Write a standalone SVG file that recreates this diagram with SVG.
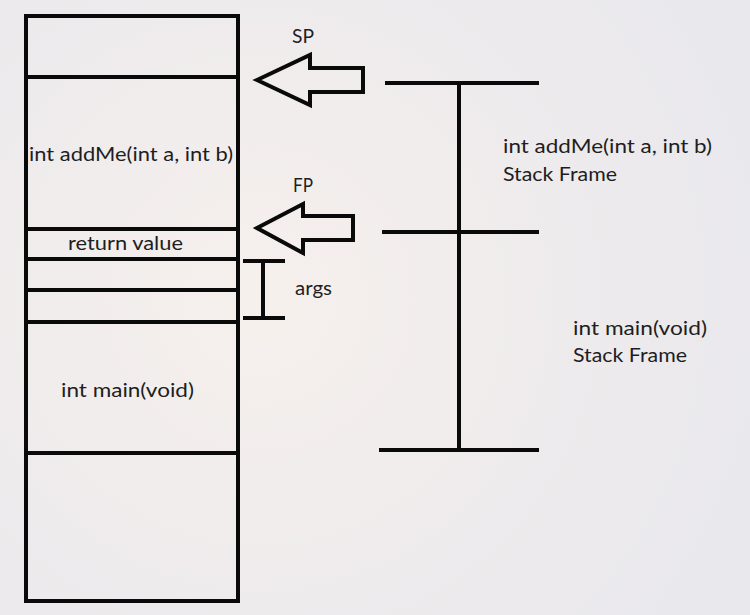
<svg xmlns="http://www.w3.org/2000/svg" width="750" height="615" viewBox="0 0 750 615">
<defs>
<radialGradient id="bg" cx="260" cy="300" r="520" gradientUnits="userSpaceOnUse">
<stop offset="0" stop-color="#f6f0ec"/>
<stop offset="0.6" stop-color="#eeebed"/>
<stop offset="1" stop-color="#e9e8ec"/>
</radialGradient>
<style>
.ln{stroke:#0a0a0a;stroke-width:4;fill:none;stroke-linecap:butt}
.ar{stroke:#0a0a0a;stroke-width:4;fill:none;stroke-linejoin:miter}
.t{font-family:Lato,"Open Sans",sans-serif;font-size:19.5px;fill:#1e1e22}
</style>
</defs>
<rect width="750" height="615" fill="url(#bg)"/>
<g id="stack">
<rect x="26" y="16" width="212" height="585" class="ln"/>
<line x1="26" y1="77" x2="238" y2="77" class="ln"/>
<line x1="26" y1="229" x2="238" y2="229" class="ln"/>
<line x1="26" y1="259" x2="238" y2="259" class="ln"/>
<line x1="26" y1="290" x2="238" y2="290" class="ln"/>
<line x1="26" y1="322" x2="238" y2="322" class="ln"/>
<line x1="26" y1="453" x2="238" y2="453" class="ln"/>
<text class="t" x="29" y="161" textLength="204" lengthAdjust="spacingAndGlyphs">int addMe(int a, int b)</text>
<text class="t" x="68" y="250" textLength="115" lengthAdjust="spacingAndGlyphs">return value</text>
<text class="t" x="61" y="397" textLength="133" lengthAdjust="spacingAndGlyphs">int main(void)</text>
</g>
<g id="sp">
<path class="ar" d="M257,80 L310,55 L310,68 L363,68 L363,92 L310,92 L310,105 Z"/>
<text class="t" x="292" y="43" textLength="22" lengthAdjust="spacingAndGlyphs">SP</text>
</g>
<g id="fp">
<path class="ar" d="M257,228 L303,204 L303,216 L353,216 L353,240 L303,240 L303,253 Z"/>
<text class="t" x="293" y="192" textLength="20" lengthAdjust="spacingAndGlyphs">FP</text>
</g>
<g id="args">
<line x1="243" y1="261" x2="285" y2="261" class="ln"/>
<line x1="263" y1="261" x2="263" y2="318" class="ln"/>
<line x1="243" y1="318" x2="285" y2="318" class="ln"/>
<text class="t" x="295" y="295" textLength="37" lengthAdjust="spacingAndGlyphs">args</text>
</g>
<g id="frames">
<line x1="385" y1="83" x2="539" y2="83" class="ln"/>
<line x1="382" y1="232" x2="539" y2="232" class="ln"/>
<line x1="379" y1="450" x2="539" y2="450" class="ln"/>
<line x1="459" y1="83" x2="459" y2="450" class="ln"/>
<text class="t" x="503" y="153" textLength="209" lengthAdjust="spacingAndGlyphs">int addMe(int a, int b)</text>
<text class="t" x="503" y="181" textLength="114" lengthAdjust="spacingAndGlyphs">Stack Frame</text>
<text class="t" x="573" y="335" textLength="134" lengthAdjust="spacingAndGlyphs">int main(void)</text>
<text class="t" x="573" y="362" textLength="114" lengthAdjust="spacingAndGlyphs">Stack Frame</text>
</g>
</svg>
